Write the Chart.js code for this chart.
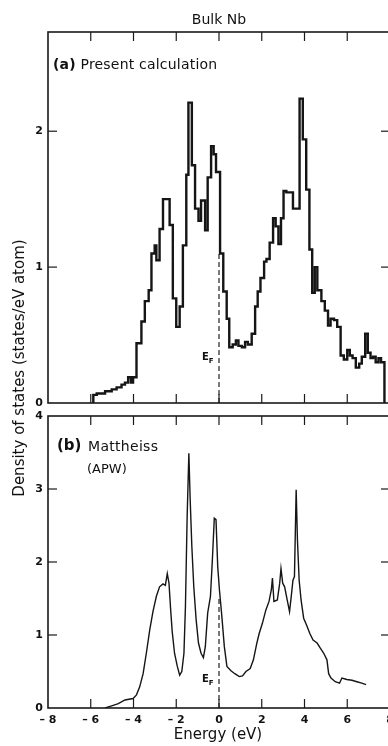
<!DOCTYPE html>
<html>
<head>
<meta charset="utf-8">
<script src="https://cdn.jsdelivr.net/npm/chart.js@4.4.1/dist/chart.umd.min.js"></script>
<style>
  body { margin:0; width:388px; height:746px; overflow:hidden; background:#fff; position:relative;
         font-family:"DejaVu Sans", sans-serif; color:#111; }
  canvas { position:absolute; left:0; }
  .t { position:absolute; white-space:nowrap; line-height:1; color:#111; }
  .ylab { position:absolute; left:-131px; top:360px; width:300px; height:16px; line-height:16px;
          text-align:center; font-size:15px; color:#111; white-space:nowrap; transform:rotate(-90deg); }
</style>
</head>
<body>
<canvas id="grafA" width="392" height="410" style="top:0"></canvas>
<canvas id="grafB" width="392" height="336" style="top:410px"></canvas>

<div class="t" style="left:219px;top:12px;font-size:14px;transform:translateX(-50%)">Bulk Nb</div>
<div class="t" style="left:53px;top:57px;font-size:14px;letter-spacing:0.2px"><b>(a)</b> Present calculation</div>
<div class="t" style="left:57px;top:438px;font-size:15px;font-weight:bold">(b)</div>
<div class="t" style="left:88px;top:439px;font-size:14px;letter-spacing:0.3px">Mattheiss</div>
<div class="t" style="left:87px;top:462px;font-size:13px">(APW)</div>
<div class="t" style="left:202px;top:352px;font-size:10px;font-weight:bold">E<sub style="font-size:7px">F</sub></div>
<div class="t" style="left:202px;top:674px;font-size:10px;font-weight:bold">E<sub style="font-size:7px">F</sub></div>
<div class="ylab">Density of states (states/eV atom)</div>
<div class="t" style="left:173px;top:727px;width:90px;text-align:center;font-size:15px">Energy (eV)</div>

<script>
// (a) present calculation: histogram bin edges (eV) and heights (states/eV atom)
var edges_a = [-5.88, -5.72, -5.33, -5.02, -4.79, -4.56, -4.40, -4.25, -4.12, -4.02,
               -3.86, -3.63, -3.47, -3.29, -3.16, -3.01, -2.93, -2.78, -2.62, -2.31,
               -2.16, -2.00, -1.84, -1.69, -1.53, -1.43, -1.27, -1.12, -0.96, -0.84,
               -0.65, -0.53, -0.37, -0.25, -0.14, 0.05, 0.20, 0.36, 0.48, 0.64,
               0.79, 0.91, 1.07, 1.22, 1.35, 1.53, 1.69, 1.81, 1.94, 2.11,
               2.22, 2.37, 2.53, 2.65, 2.78, 2.90, 3.02, 3.15, 3.46, 3.77,
               3.92, 4.08, 4.23, 4.36, 4.48, 4.60, 4.79, 4.95, 5.10, 5.22,
               5.38, 5.53, 5.69, 5.84, 6.00, 6.12, 6.25, 6.40, 6.56, 6.68,
               6.84, 6.96, 7.09, 7.21, 7.33, 7.46, 7.58, 7.74];
var dos_a = [0.06, 0.07, 0.086, 0.10, 0.115, 0.135, 0.15, 0.19, 0.15, 0.19,
             0.44, 0.60, 0.75, 0.83, 1.10, 1.16, 1.05, 1.28, 1.50, 1.31,
             0.77, 0.56, 0.71, 1.16, 1.68, 2.21, 1.75, 1.43, 1.34, 1.49,
             1.27, 1.66, 1.89, 1.83, 1.70, 1.10, 0.82, 0.62, 0.41, 0.43,
             0.46, 0.42, 0.41, 0.45, 0.43, 0.51, 0.71, 0.82, 0.92, 1.04,
             1.06, 1.18, 1.36, 1.30, 1.17, 1.36, 1.56, 1.55, 1.43, 2.24,
             1.94, 1.57, 1.13, 0.81, 1.00, 0.83, 0.75, 0.68, 0.57, 0.62,
             0.61, 0.56, 0.35, 0.32, 0.39, 0.35, 0.33, 0.26, 0.29, 0.34,
             0.51, 0.37, 0.33, 0.34, 0.30, 0.33, 0.30];

// (b) Mattheiss APW curve
var energy_b = [-5.33, -5.02, -4.71, -4.40, -4.02, -3.86, -3.71, -3.55, -3.40, -3.24,
                -3.09, -2.93, -2.78, -2.62, -2.51, -2.42, -2.34, -2.26, -2.19, -2.08,
                -1.95, -1.84, -1.74, -1.64, -1.57, -1.49, -1.41, -1.35, -1.27, -1.18,
                -1.07, -0.96, -0.84, -0.73, -0.64, -0.53, -0.40, -0.31, -0.22, -0.14,
                -0.06, 0.02, 0.12, 0.25, 0.37, 0.56, 0.74, 0.95, 1.10, 1.26,
                1.46, 1.61, 1.77, 1.88, 2.03, 2.19, 2.34, 2.45, 2.50, 2.57,
                2.73, 2.84, 2.90, 2.98, 3.07, 3.19, 3.30, 3.38, 3.46, 3.53,
                3.61, 3.67, 3.75, 3.84, 3.96, 4.09, 4.25, 4.40, 4.59, 4.74,
                4.90, 5.05, 5.13, 5.24, 5.44, 5.64, 5.75, 5.98, 6.22, 6.45,
                6.68, 6.88];
var dos_b = [0.00, 0.03, 0.06, 0.11, 0.13, 0.18, 0.29, 0.47, 0.75, 1.07,
             1.32, 1.53, 1.66, 1.70, 1.68, 1.84, 1.71, 1.34, 1.05, 0.75,
             0.57, 0.45, 0.50, 0.75, 1.39, 2.62, 3.49, 2.87, 2.21, 1.66,
             1.21, 0.89, 0.75, 0.69, 0.84, 1.30, 1.53, 2.03, 2.60, 2.58,
             1.94, 1.62, 1.30, 0.84, 0.57, 0.51, 0.47, 0.43, 0.44, 0.50,
             0.54, 0.66, 0.89, 1.02, 1.16, 1.34, 1.46, 1.62, 1.78, 1.46,
             1.48, 1.71, 1.91, 1.71, 1.66, 1.48, 1.32, 1.53, 1.75, 1.80,
             2.99, 2.30, 1.75, 1.48, 1.23, 1.14, 1.02, 0.93, 0.89, 0.82,
             0.75, 0.66, 0.47, 0.41, 0.36, 0.34, 0.41, 0.39, 0.38, 0.36,
             0.34, 0.32];

var fermi = 0;
var ef_top_a = 1.10;
var ef_top_b = 1.50;
var ticks_x = [-8, -6, -4, -2, 0, 2, 4, 6, 8];

function histo(edges, vals){
  var pts = [{x: edges[0], y: 0}];
  var n = Math.min(vals.length, edges.length - 1);
  for (var i = 0; i < n; i++) pts.push({x: edges[i], y: vals[i]});
  pts.push({x: edges[n], y: 0});
  return pts;
}
function curve(xs, ys){
  var pts = [];
  for (var i = 0; i < Math.min(xs.length, ys.length); i++) pts.push({x: xs[i], y: ys[i]});
  return pts;
}

// frame round the plot and short ticks pointing inwards
var frame = {
  id: 'frame',
  afterDatasetsDraw: function(chart){
    var ctx = chart.ctx, a = chart.chartArea, sx = chart.scales.x, sy = chart.scales.y;
    function seg(x1, y1, x2, y2){ ctx.beginPath(); ctx.moveTo(x1, y1); ctx.lineTo(x2, y2); ctx.stroke(); }
    ctx.save();
    ctx.strokeStyle = '#1a1a1a';
    ctx.lineWidth = 1.6;
    ctx.strokeRect(a.left, a.top, a.right - a.left, a.bottom - a.top);
    ctx.lineWidth = 1.2;
    sx.ticks.forEach(function(t){
      if (t.value <= sx.min || t.value >= sx.max) return;
      var px = sx.getPixelForValue(t.value);
      seg(px, a.top, px, a.top + 9);
      seg(px, a.bottom, px, a.bottom - 9);
    });
    sy.ticks.forEach(function(t){
      if (t.value <= sy.min || t.value >= sy.max) return;
      var py = sy.getPixelForValue(t.value);
      seg(a.left, py, a.left + 9, py);
      seg(a.right, py, a.right - 9, py);
    });
    ctx.restore();
  }
};

var tickFont = {family: '"DejaVu Sans", sans-serif', size: 11, weight: 'bold'};

function grafico(nome, pts, lw, efTop, ymax, padTop, xh, showX){
  return new Chart(document.getElementById(nome), {
    type: 'line',
    data: {
      datasets: [
        {data: pts, stepped: lw > 2, borderColor: '#151515', borderWidth: lw, pointRadius: 0, tension: 0, fill: false},
        {data: [{x: fermi, y: 0}, {x: fermi, y: efTop}], borderColor: '#222', borderWidth: 1.2,
         borderDash: [5, 3], pointRadius: 0, fill: false}
      ]
    },
    options: {
      responsive: false,
      animation: false,
      events: [],
      layout: {padding: {top: padTop, right: 2, left: 0, bottom: 0}},
      plugins: {legend: {display: false}, tooltip: {enabled: false}},
      scales: {
        x: {
          type: 'linear', min: -8, max: 8,
          afterBuildTicks: function(s){ s.ticks = ticks_x.map(function(v){ return {value: v}; }); },
          ticks: {display: showX, font: tickFont, color: '#111', padding: 6, maxRotation: 0,
                  callback: function(v){ return v < 0 ? '\u2013 ' + (-v) : '' + v; }},
          grid: {display: false, drawTicks: false},
          border: {display: false},
          afterFit: function(s){ s.height = xh; s.paddingLeft = 0; s.paddingRight = 0; }
        },
        y: {
          type: 'linear', min: 0, max: ymax,
          ticks: {stepSize: 1, includeBounds: false, font: tickFont, color: '#111', padding: 5},
          grid: {display: false, drawTicks: false},
          border: {display: false},
          afterFit: function(s){ s.width = 48; s.paddingTop = 0; s.paddingBottom = 0; }
        }
      }
    },
    plugins: [frame]
  });
}

grafico('grafA', histo(edges_a, dos_a), 2.4, ef_top_a, 2.73, 32, 7, false);
grafico('grafB', curve(energy_b, dos_b), 1.4, ef_top_b, 4, 6, 38, true);
</script>
</body>
</html>
